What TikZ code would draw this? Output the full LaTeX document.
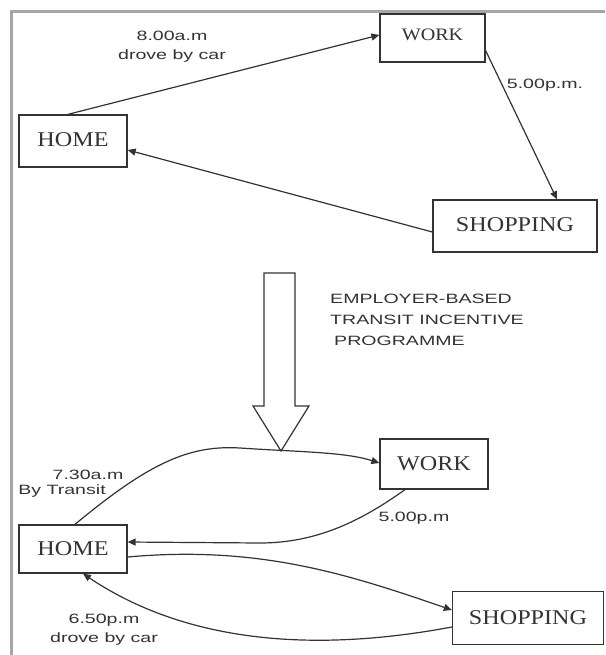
\documentclass[tikz,border=0pt]{standalone}
\usepackage{fontspec}
\newfontfamily\boxfont[FakeStretch=1.15]{Liberation Serif}
\newfontfamily\lblfont[FakeStretch=1.45]{Liberation Sans}
\usetikzlibrary{arrows.meta}
\definecolor{ink}{HTML}{333333}
\definecolor{frame}{HTML}{A6A6A6}
\begin{document}
\begin{tikzpicture}[x=1pt,y=-1pt,
  box/.style={draw=ink, line width=1.3pt, inner sep=0pt, text=ink,
    font=\boxfont\fontsize{21}{21}\selectfont},
  lbl/.style={inner sep=0pt, text=ink, align=center,
    font=\lblfont\fontsize{13.5}{19}\selectfont},
  conn/.style={draw=ink, line width=1.2pt, -{Triangle[length=8pt,width=7pt]}},
  bigarrow/.style={draw=ink, line width=1.2pt, fill=white, line join=miter}]
\useasboundingbox (0,0) rectangle (605,655);
\fill[white] (0,0) rectangle (605,655);
% frame
\draw[frame, line width=3pt] (11,655) -- (11,12) -- (605,12);

% ---------- top diagram ----------
\node[box, minimum width=108pt, minimum height=52pt] (home1) at (73,141) {\raisebox{2pt}{HOME}};
\node[box, minimum width=105pt, minimum height=48pt, font=\boxfont\fontsize{17.5}{17.5}\selectfont] (work1) at (432.5,38) {\raisebox{6pt}{WORK}};
\node[box, minimum width=164pt, minimum height=52pt] (shop1) at (515,226) {\raisebox{3pt}{SHOPPING}};

\draw[conn] ([xshift=-5pt]home1.north) -- ([yshift=3pt]work1.west);
\draw[conn] ([yshift=12pt]work1.south east) -- ([xshift=42pt]shop1.north);
\draw[conn] ([yshift=-6pt]shop1.west) -- ([yshift=-9pt]home1.east);

\node[lbl] (l1) at (172,47) {8.00a.m\\drove by car};
\node[lbl] (l2) at (545,85) {5.00p.m.};

% ---------- transition arrow ----------
\draw[bigarrow] (264,273) -- (295,273) -- (295,406) -- (309,406) -- (281,451)
  -- (253,406) -- (264,406) -- cycle;
\node[lbl, align=left, anchor=north west, font=\lblfont\fontsize{13.5}{21}\selectfont]
  (prog) at (330,294) {EMPLOYER-BASED\\TRANSIT INCENTIVE\\\hspace*{4pt}PROGRAMME};

% ---------- bottom diagram ----------
\node[box, minimum width=108pt, minimum height=48pt] (home2) at (73,549) {HOME};
\node[box, minimum width=108pt, minimum height=50pt] (work2) at (434,464) {WORK};
\node[box, minimum width=151pt, minimum height=53pt] (shop2) at (528,618) {SHOPPING};

\coordinate (w1) at (240,448);
\coordinate (w2) at (260,543);
\draw[conn] ([xshift=2pt]home2.north) .. controls (150,462) and (190,445) .. (w1)
  .. controls (300,452) and (345,452) .. ([yshift=1pt]work2.west);
\draw[conn] ([xshift=-29pt]work2.south) .. controls (365,518) and (320,543) .. (w2)
  -- ([yshift=7pt]home2.east);
\draw[conn] ([yshift=-8pt]home2.east) .. controls (260,545) and (350,575) .. ([yshift=8pt]shop2.west);
\draw[conn] ([yshift=-9pt]shop2.west) .. controls (340,648) and (200,652) .. ([xshift=10pt]home2.south);

\node[lbl] (l3) at (88,475) {7.30a.m};
\node[lbl] (l4) at (62,491) {By Transit};
\node[lbl] (l5) at (414,518) {5.00p.m};
\node[lbl] (l6) at (104,630) {6.50p.m\\drove by car};
\end{tikzpicture}
\end{document}
